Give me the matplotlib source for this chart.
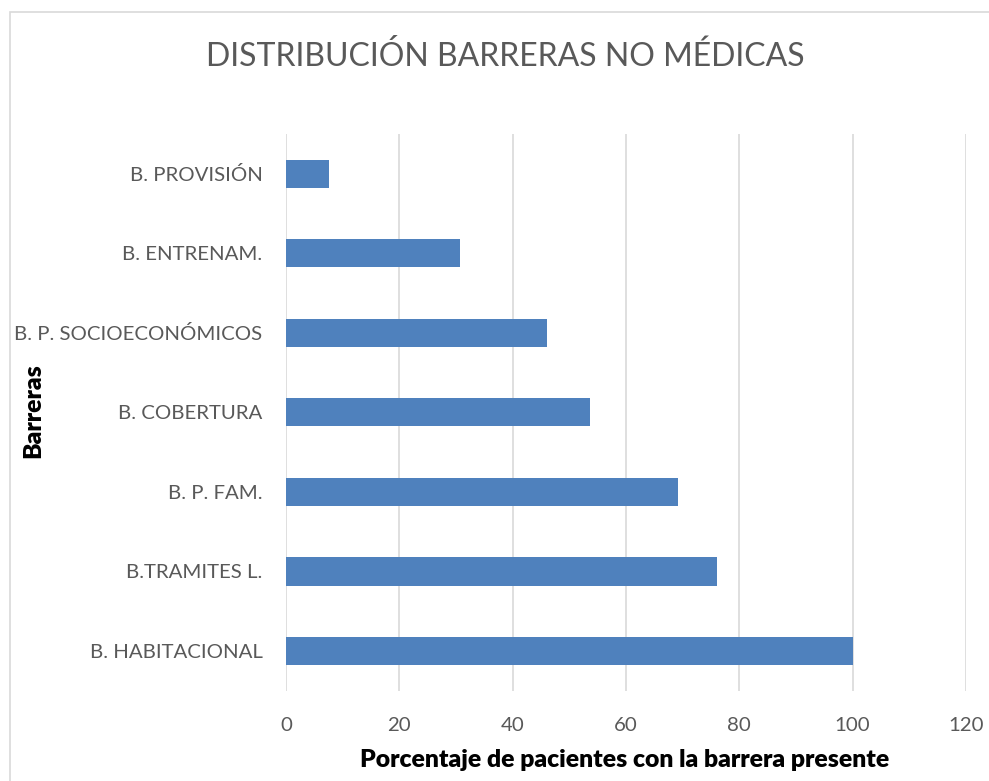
import matplotlib
matplotlib.use("Agg")
import matplotlib.pyplot as plt
from matplotlib.patches import Rectangle

categories = ["B. HABITACIONAL", "B.TRAMITES L.", "B. P. FAM.", "B. COBERTURA",
              "B. P. SOCIOECONÓMICOS", "B. ENTRENAM.", "B. PROVISIÓN"]
values = [100, 76.0, 69.2, 53.7, 46.1, 30.7, 7.5]
xticks = [0, 20, 40, 60, 80, 100, 120]

plt.rcParams['font.family'] = ['Lato', 'DejaVu Sans']

fig = plt.figure(figsize=(9.89, 7.81), dpi=100)
fig.patches.append(Rectangle((10/989, -0.1), 1.2, 1 - 12/781 + 0.1,
                             transform=fig.transFigure, fill=False,
                             edgecolor='#d9d9d9', linewidth=1.2))
ax = fig.add_axes([286/989, 1 - 690.7/781, (966 - 286)/989, (690.7 - 134)/781])

y = list(range(len(categories)))
ax.barh(y, values, height=0.355, color='#4f81bd', zorder=3)
ax.set_xlim(0, 120)
ax.set_ylim(-0.5, len(categories) - 0.5)
ax.set_xticks(xticks)
ax.set_xticklabels([str(t) for t in xticks])
ax.set_yticks(y)
ax.set_yticklabels(categories)
ax.tick_params(axis='both', length=0, colors='#595959', labelsize=14.7)
ax.tick_params(axis='x', pad=19)
ax.tick_params(axis='y', pad=17)
for s in ax.spines.values():
    s.set_visible(False)
ax.grid(axis='x', color='#d9d9d9', linewidth=1.2, zorder=0)
ax.set_axisbelow(True)

fig.text(505/989, 1 - 56/781, "DISTRIBUCIÓN BARRERAS NO MÉDICAS", ha='center', va='center',
         fontsize=23, color='#595959')
fig.text(625/989, 1 - 760/781, "Porcentaje de pacientes con la barrera presente",
         ha='center', va='center', fontsize=17.8, fontweight='heavy', color='black')
fig.text(33/989, 1 - 411/781, "Barreras", rotation=90, ha='center', va='center',
         fontsize=17.8, fontweight='heavy', color='black')

fig.savefig("out.png", dpi=100)
